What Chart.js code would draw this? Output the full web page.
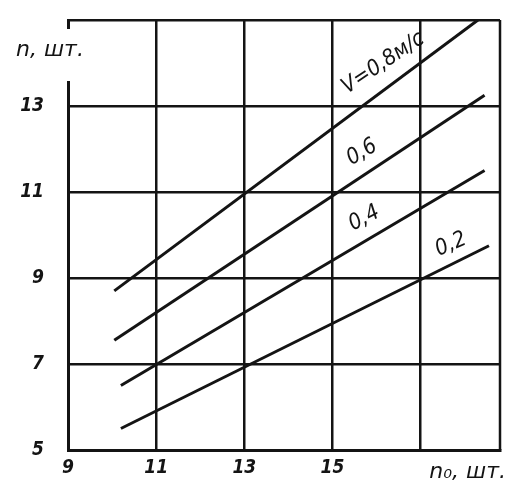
<!DOCTYPE html>
<html>
<head>
<meta charset="utf-8">
<script src="https://cdn.jsdelivr.net/npm/chart.js@4/dist/chart.umd.min.js"></script>
<style>
  html, body { margin: 0; padding: 0; background: #fff; }
  #wrap { width: 510px; height: 494px; }
</style>
</head>
<body>
<div id="wrap"><canvas id="c" width="510" height="494"></canvas></div>
<script>
// ---- data ----
const seriesLabels = ['V=0,8м/с', '0,6', '0,4', '0,2'];
const n0_v08 = [10.05, 18.3];
const n_v08  = [8.7, 15.0];
const n0_v06 = [10.05, 18.45];
const n_v06  = [7.55, 13.25];
const n0_v04 = [10.2, 18.45];
const n_v04  = [6.5, 11.5];
const n0_v02 = [10.2, 18.55];
const n_v02  = [5.5, 9.75];
const xTicks = [9, 11, 13, 15, 17];
const yTicks = [5, 7, 9, 11, 13, 15];
const xTickLabels = [9, 11, 13, 15];
const yTickLabels = [5, 7, 9, 11, 13];
const xTitle = 'n₀, шт.';
const yTitle = 'n, шт.';

const xs = [n0_v08, n0_v06, n0_v04, n0_v02];
const ys = [n_v08, n_v06, n_v04, n_v02];

const FAMILY = "'DejaVu Sans Condensed', 'DejaVu Sans', sans-serif";
const TFAMILY = "'DejaVu Sans', sans-serif";
const INK = '#141414';

const labelPlugin = {
  id: 'lineLabels',
  afterDatasetsDraw(chart, args, opts) {
    const { ctx, chartArea, scales: { x, y } } = chart;
    ctx.save();
    ctx.fillStyle = INK;
    ctx.font = `italic ${opts.size}px ${FAMILY}`;
    ctx.textAlign = 'center';
    ctx.textBaseline = 'middle';
    chart.data.datasets.forEach((ds, i) => {
      const p0 = ds.data[0], p1 = ds.data[ds.data.length - 1];
      const ax = x.getPixelForValue(p0.x), ay = y.getPixelForValue(p0.y);
      const bx = x.getPixelForValue(p1.x), by = y.getPixelForValue(p1.y);
      const ang = Math.atan2(by - ay, bx - ax);
      const px = x.getPixelForValue(opts.at[i]);
      const t = (px - ax) / (bx - ax);
      const py = ay + t * (by - ay);
      const off = opts.offset[i];
      const cx = px + Math.sin(ang) * off;
      const cy = py - Math.cos(ang) * off;
      ctx.save();
      ctx.translate(cx, cy);
      ctx.rotate(ang + opts.twist);
      ctx.fillText(ds.label, 0, 0);
      ctx.restore();
    });
    // axis titles
    ctx.font = `italic ${opts.titleSize}px ${TFAMILY}`;
    // y title with white backing (breaks the left axis like the reference)
    ctx.fillStyle = '#fff';
    ctx.fillRect(chartArea.left - 6, chartArea.top + 9, 12, 52);
    ctx.fillStyle = INK;
    ctx.textAlign = 'left';
    ctx.fillText(yTitle, chartArea.left - 52, chartArea.top + 30);
    // x title at right end of the x axis
    ctx.textAlign = 'right';
    ctx.fillText(xTitle, chartArea.right + 6, chartArea.bottom + 22);
    // right border
    ctx.strokeStyle = INK;
    ctx.lineWidth = 2.5;
    ctx.beginPath();
    ctx.moveTo(chartArea.right, chartArea.top);
    ctx.lineTo(chartArea.right, chartArea.bottom);
    ctx.stroke();
    ctx.restore();
  }
};

const tickFont = { family: FAMILY, size: 19, style: 'italic', weight: 'bold' };

new Chart(document.getElementById('c'), {
  type: 'scatter',
  data: {
    datasets: seriesLabels.map((l, i) => ({
      label: l,
      data: xs[i].map((v, j) => ({ x: v, y: ys[i][j] })),
      showLine: true,
      borderColor: INK,
      borderWidth: 3,
      pointRadius: 0,
      fill: false
    }))
  },
  options: {
    responsive: false,
    animation: false,
    layout: { padding: { top: 20, right: 10, left: 0, bottom: 0 } },
    plugins: {
      legend: { display: false },
      tooltip: { enabled: false },
      lineLabels: { at: [16.45, 15.92, 15.95, 17.87], offset: [22, 20, 20, 18], size: 22, titleSize: 22, twist: 0.05 }
    },
    scales: {
      x: {
        type: 'linear', min: 9, max: 18.8,
        afterBuildTicks: s => { s.ticks = xTicks.map(v => ({ value: v })); },
        afterFit: s => { s.height = 44; s.paddingLeft = 0; s.paddingRight = 0; },
        grid: { color: INK, lineWidth: 2.5, drawTicks: false },
        border: { color: INK, width: 3 },
        ticks: { padding: 7, color: INK, font: tickFont,
          callback: v => xTickLabels.includes(v) ? String(v) : '' }
      },
      y: {
        type: 'linear', min: 5, max: 15,
        afterBuildTicks: s => { s.ticks = yTicks.map(v => ({ value: v })); },
        afterFit: s => { s.width = 68; s.paddingTop = 0; s.paddingBottom = 0; },
        grid: { color: INK, lineWidth: 2.5, drawTicks: false },
        border: { color: INK, width: 3 },
        ticks: { padding: 24, color: INK, font: tickFont,
          callback: v => yTickLabels.includes(v) ? String(v) : '' }
      }
    }
  },
  plugins: [labelPlugin]
});
</script>
</body>
</html>
